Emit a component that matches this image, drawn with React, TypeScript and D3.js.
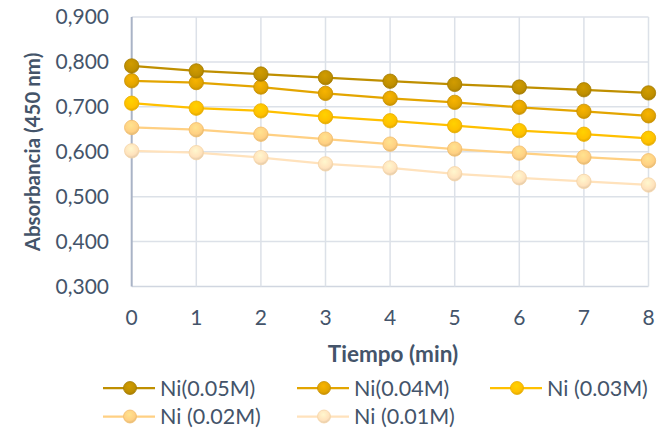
import React from "react";
import * as d3 from "d3";

// Absorbance at 450 nm over time for five Ni concentrations
const times = [0, 1, 2, 3, 4, 5, 6, 7, 8];
const seriesNames = ["Ni(0.05M)", "Ni(0.04M)", "Ni (0.03M)", "Ni (0.02M)", "Ni (0.01M)"];
const ni005 = [0.791, 0.780, 0.773, 0.765, 0.757, 0.750, 0.744, 0.738, 0.731];
const ni004 = [0.758, 0.754, 0.744, 0.730, 0.719, 0.710, 0.699, 0.690, 0.680];
const ni003 = [0.708, 0.697, 0.691, 0.678, 0.669, 0.658, 0.647, 0.639, 0.630];
const ni002 = [0.654, 0.649, 0.639, 0.628, 0.617, 0.606, 0.597, 0.588, 0.580];
const ni001 = [0.602, 0.598, 0.587, 0.573, 0.564, 0.551, 0.542, 0.534, 0.526];
const yTicks = [0.3, 0.4, 0.5, 0.6, 0.7, 0.8, 0.9];

const colors = ["#BF8F00", "#E3A500", "#FFC000", "#FFD083", "#FFE2BC"];
const strokes = ["#A57B00", "#C98F00", "#E8AE00", "#F2BD6A", "#F5D4A6"];

const W = 672;
const H = 433;
const FONT = "Lato, 'Open Sans', sans-serif";
const TEXT = "#44546A";

export default function App() {
  const all = [ni005, ni004, ni003, ni002, ni001];
  const x = d3.scaleLinear().domain([0, 8]).range([131.7, 648.5]);
  const y = d3.scaleLinear().domain([0.3, 0.9]).range([286.5, 17]);
  const line = d3
    .line<number>()
    .x((_, i) => x(times[i]))
    .y((d) => y(d));

  const fmt = (v: number) => d3.format(".3f")(v).replace(".", ",");

  const legendPos = [
    { x: 103, y: 388 },
    { x: 297, y: 388 },
    { x: 490, y: 388 },
    { x: 103, y: 416.5 },
    { x: 297, y: 416.5 },
  ];

  return (
    <svg
      width={W}
      height={H}
      style={{ position: "absolute", left: 0, top: 0, background: "#fff" }}
      fontFamily={FONT}
    >
      <defs>
        {colors.map((c, i) => (
          <radialGradient key={i} id={`mk${i}`} cx="45%" cy="35%" r="65%">
            <stop offset="0%" stopColor={d3.color(c)!.brighter(0.25).formatHex()} />
            <stop offset="70%" stopColor={c} />
            <stop offset="100%" stopColor={d3.color(c)!.darker(0.35).formatHex()} />
          </radialGradient>
        ))}
      </defs>

      {/* gridlines */}
      {yTicks.map((t) => (
        <line
          key={"gy" + t}
          x1={x(0)}
          x2={x(8)}
          y1={y(t)}
          y2={y(t)}
          stroke={t === 0.3 ? "#D0D6E0" : "#DCE1E8"}
          strokeWidth={1.5}
        />
      ))}
      {times.map((t) => (
        <line
          key={"gx" + t}
          x1={x(t)}
          x2={x(t)}
          y1={y(0.9)}
          y2={y(0.3)}
          stroke={t === 0 ? "#A9B3C6" : "#DCE1E8"}
          strokeWidth={t === 0 ? 2 : 1.5}
        />
      ))}

      {/* y tick labels */}
      {yTicks.map((t) => (
        <text
          key={"ty" + t}
          x={109}
          y={y(t)}
          dy="0.35em"
          textAnchor="end"
          fontSize={21}
          fill={TEXT}
        >
          {fmt(t)}
        </text>
      ))}
      {/* x tick labels */}
      {times.map((t) => (
        <text
          key={"tx" + t}
          x={x(t)}
          y={325}
          textAnchor="middle"
          fontSize={21}
          fill={TEXT}
        >
          {t}
        </text>
      ))}

      {/* axis titles */}
      <text
        x={393}
        y={362}
        textAnchor="middle"
        fontSize={22.5}
        fontWeight="bold"
        fill={TEXT}
      >
        Tiempo (min)
      </text>
      <text
        transform={`translate(40,152) rotate(-90)`}
        textAnchor="middle"
        fontSize={20.5}
        fontWeight="bold"
        fill={TEXT}
      >
        Absorbancia (450 nm)
      </text>

      {/* series lines, lightest drawn first */}
      {all
        .map((s, i) => ({ s, i }))
        .reverse()
        .map(({ s, i }) => (
          <g key={"s" + i}>
            <path d={line(s) || ""} fill="none" stroke={colors[i]} strokeWidth={2.25} />
            {s.map((v, j) => (
              <circle
                key={j}
                cx={x(times[j])}
                cy={y(v)}
                r={7.2}
                fill={`url(#mk${i})`}
                stroke={strokes[i]}
                strokeWidth={0.8}
              />
            ))}
          </g>
        ))}

      {/* legend */}
      {seriesNames.map((n, i) => {
        const p = legendPos[i];
        return (
          <g key={"lg" + i}>
            <line
              x1={p.x}
              x2={p.x + 52}
              y1={p.y}
              y2={p.y}
              stroke={colors[i]}
              strokeWidth={2.25}
            />
            <circle
              cx={p.x + 27}
              cy={p.y}
              r={6.5}
              fill={`url(#mk${i})`}
              stroke={strokes[i]}
              strokeWidth={0.8}
            />
            <text x={p.x + 57} y={p.y} dy="0.36em" fontSize={21.5} fill={TEXT}>
              {n}
            </text>
          </g>
        );
      })}
    </svg>
  );
}
